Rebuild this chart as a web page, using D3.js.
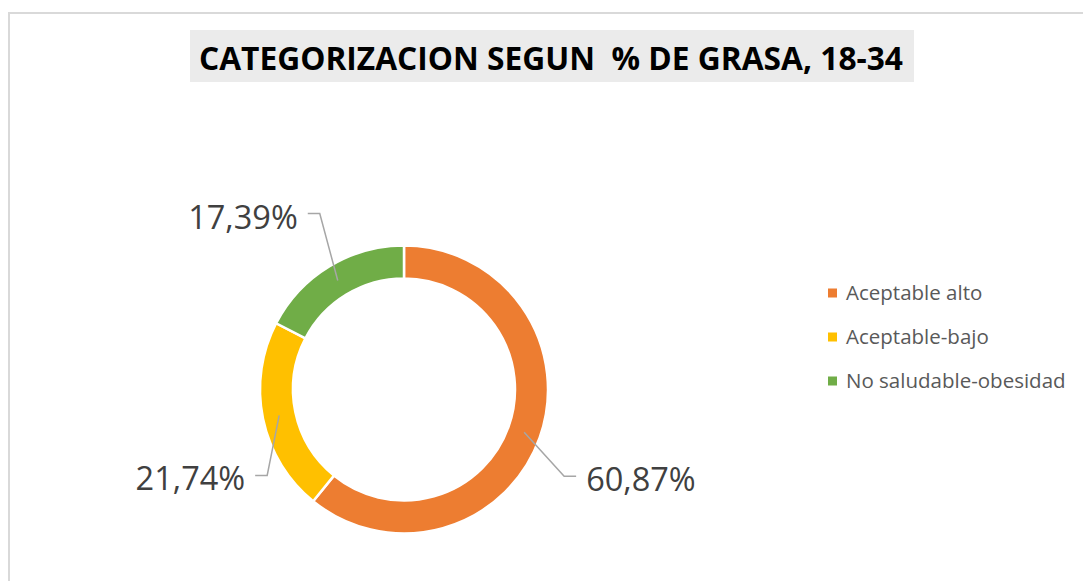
<!DOCTYPE html>
<html><head><meta charset="utf-8">
<script src="https://cdn.jsdelivr.net/npm/d3@7"></script>
<style>html,body{margin:0;padding:0;background:#fff;}svg{display:block;}</style>
</head><body>
<script>
const title = "CATEGORIZACION SEGUN  % DE GRASA, 18-34";
const categories = ["Aceptable alto", "Aceptable-bajo", "No saludable-obesidad"];
const values = [60.87, 21.74, 17.39];
const valueLabels = ["60,87%", "21,74%", "17,39%"];
const colors = ["#ED7D31", "#FFC000", "#70AD47"];
// leader-line elbow offsets relative to slice centroid (layout config)
const elbowOffsets = [[40, 44], [-12, 60], [-18, -67]];

const W = 1083, H = 581;
const svg = d3.select("body").append("svg").attr("width", W).attr("height", H);

svg.append("rect").attr("x", 9).attr("y", 13).attr("width", W + 20).attr("height", H + 20)
  .attr("fill", "#fff").attr("stroke", "#d9d9d9").attr("stroke-width", 2);

svg.append("rect").attr("x", 190).attr("y", 30).attr("width", 724).attr("height", 52).attr("fill", "#ebebeb");
svg.append("text").attr("x", 199).attr("y", 70).text(title)
  .attr("font-family", "Open Sans, sans-serif").attr("font-weight", 700).attr("font-size", 31.5)
  .attr("fill", "#000").attr("textLength", 704).attr("lengthAdjust", "spacingAndGlyphs")
  .style("white-space", "pre").attr("xml:space", "preserve");

const cx = 404, cy = 389.5, rOut = 144, rIn = 111;
const pie = d3.pie().sort(null).value(d => d)(values);
const arc = d3.arc().innerRadius(rIn).outerRadius(rOut);
const g = svg.append("g").attr("transform", `translate(${cx},${cy})`);
g.selectAll("path").data(pie).join("path")
  .attr("d", arc).attr("fill", (d, i) => colors[i])
  .attr("stroke", "#fff").attr("stroke-width", 2.5);

pie.forEach((d, i) => {
  const c = arc.centroid(d);
  const [ox, oy] = elbowOffsets[i];
  const ex = c[0] + ox, ey = c[1] + oy;
  const right = ex > c[0];
  const hx = ex + (right ? 12 : -12);
  g.append("polyline").attr("points", `${c[0]},${c[1]} ${ex},${ey} ${hx},${ey}`)
    .attr("fill", "none").attr("stroke", "#a6a6a6").attr("stroke-width", 1.5);
  g.append("text").attr("x", hx + (right ? 10 : -10)).attr("y", ey)
    .attr("dy", "0.46em").attr("text-anchor", right ? "start" : "end")
    .attr("font-family", "Open Sans, sans-serif").attr("font-size", 32.5).attr("fill", "#404040")
    .text(valueLabels[i]);
});

const leg = svg.append("g");
const legY = d3.scalePoint().domain(categories).range([293, 381]);
categories.forEach((c, i) => {
  const y = legY(c);
  leg.append("rect").attr("x", 828).attr("y", y - 4.5).attr("width", 9).attr("height", 9).attr("fill", colors[i]);
  leg.append("text").attr("x", 846).attr("y", y).attr("dy", "0.36em")
    .attr("font-family", "Open Sans, sans-serif").attr("font-size", 20.5).attr("fill", "#595959").text(c);
});
</script>
</body></html>
